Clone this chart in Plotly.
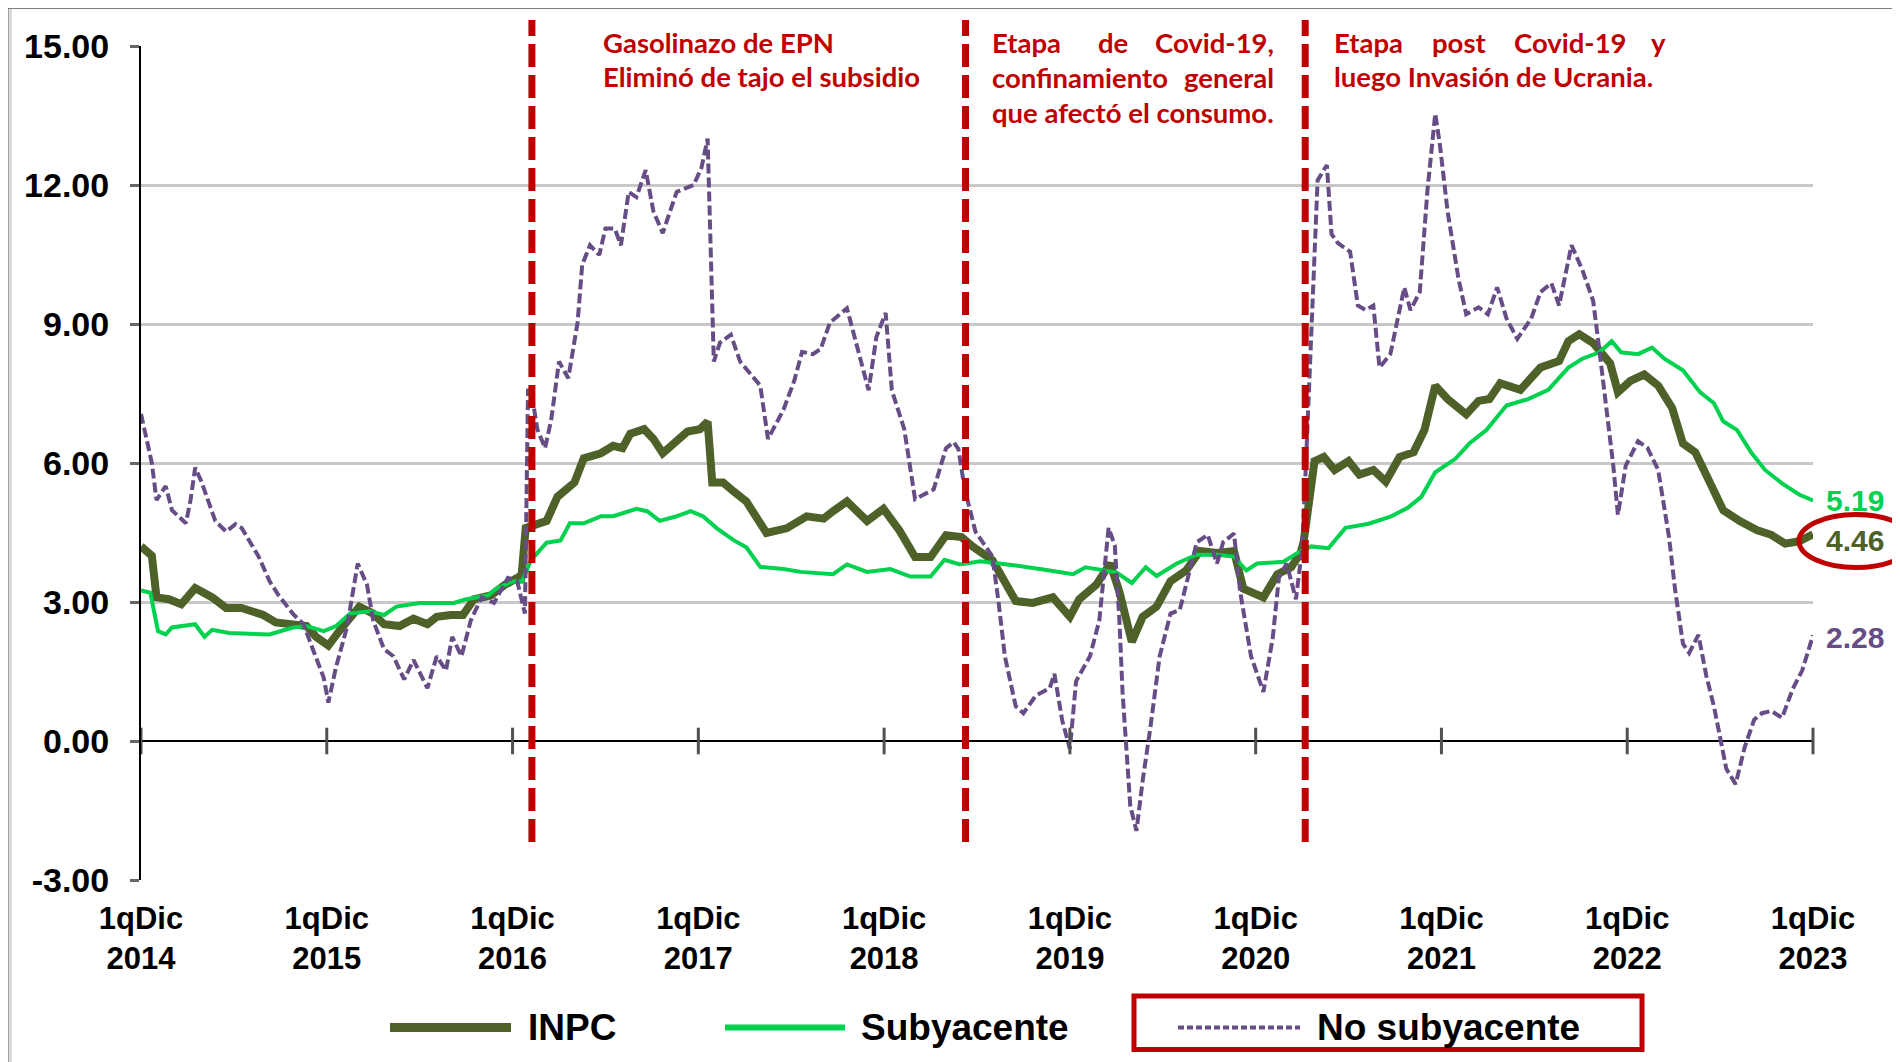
import plotly.graph_objects as go

# ---------------- data ----------------
years = [2014, 2015, 2016, 2017, 2018, 2019, 2020, 2021, 2022, 2023]
tick_months = [0, 12, 24, 36, 48, 60, 72, 84, 96, 108]      # month index, 0 = 1qDic 2014
tick_labels = ["1qDic<br>%d" % y for y in years]
y_ticks = [-3, 0, 3, 6, 9, 12, 15]
y_tick_labels = ["-3.00", "0.00", "3.00", "6.00", "9.00", "12.00", "15.00"]

inpc_m = [0, 0.7, 1.0, 1.8, 2.6, 3.5, 4.6, 5.5, 6.5, 7.9, 8.7, 9.8, 10.7, 11.3, 12.1, 12.8,
          13.5, 14.1, 15.0, 15.7, 16.7, 17.6, 18.5, 19.1, 20.0, 20.8, 21.5, 22.6, 23.5, 24.3,
          24.55, 24.85, 26.2, 26.9, 28.0, 28.6, 29.7, 30.5, 31.1, 31.6, 32.5, 33.1, 33.7, 34.6,
          35.3, 36.1, 36.6, 36.9, 37.6, 38.3, 39.1, 40.4, 41.7, 43.0, 44.1, 44.7, 45.6, 46.9,
          47.96, 49.0, 50.0, 51.0, 52.0, 53.0, 53.7, 55.0, 55.6, 56.5, 57.6, 58.9, 60.0, 60.6,
          61.7, 62.6, 63.2, 64.0, 64.7, 65.6, 66.5, 67.5, 68.4, 69.5, 70.6, 71.2, 72.5, 73.4,
          74.3, 74.9, 75.1, 75.4, 75.8, 76.4, 77.1, 78.0, 78.7, 79.6, 80.4, 81.3, 82.2, 82.9,
          83.6, 84.4, 85.6, 86.4, 87.1, 87.8, 89.1, 90.4, 91.6, 92.2, 92.9, 93.8, 94.9, 95.4,
          96.2, 97.1, 98.0, 98.9, 99.6, 100.4, 101.3, 102.2, 103.3, 104.4, 105.3, 106.2, 107.1, 108]
inpc_v = [4.2, 4.0, 3.1, 3.06, 2.95, 3.3, 3.1, 2.87, 2.87, 2.72, 2.56, 2.52, 2.48, 2.25, 2.06, 2.37,
          2.68, 2.9, 2.75, 2.52, 2.48, 2.64, 2.52, 2.68, 2.72, 2.72, 3.06, 3.14, 3.37, 3.52,
          3.45, 4.6, 4.75, 5.27, 5.58, 6.1, 6.21, 6.37, 6.32, 6.63, 6.73, 6.52, 6.21, 6.47,
          6.68, 6.73, 6.89, 5.58, 5.58, 5.38, 5.17, 4.49, 4.59, 4.85, 4.8, 4.96, 5.17, 4.75,
          5.01, 4.54, 3.97, 3.97, 4.44, 4.4, 4.2, 3.9, 3.52, 3.02, 2.98, 3.1, 2.68, 3.06,
          3.37, 3.83, 3.22, 2.14, 2.68, 2.9, 3.45, 3.68, 4.1, 4.06, 4.1, 3.29, 3.1, 3.6,
          3.75, 4.06, 4.3, 5.1, 6.04, 6.13, 5.85, 6.04, 5.75, 5.85, 5.6, 6.13, 6.23, 6.71,
          7.67, 7.38, 7.05, 7.34, 7.38, 7.72, 7.58, 8.06, 8.2, 8.63, 8.78, 8.59, 8.15, 7.53,
          7.77, 7.91, 7.67, 7.19, 6.42, 6.23, 5.65, 4.98, 4.74, 4.55, 4.45, 4.26, 4.31, 4.46]

suby_m = [0, 0.6, 1.1, 1.6, 2.0, 3.5, 4.1, 4.6, 5.7, 8.3, 9.8, 10.7, 11.8, 12.6, 13.5, 14.8,
          15.7, 16.5, 18.0, 20.2, 21.0, 22.4, 23.0, 24.1, 24.6, 25.2, 26.2, 27.1, 27.7, 28.6,
          29.7, 30.5, 32.0, 32.7, 33.5, 34.6, 35.5, 36.3, 37.2, 38.3, 39.1, 40.0, 41.5, 42.6,
          44.7, 45.6, 46.9, 48.4, 49.7, 51.0, 51.9, 52.9, 54.2, 56.5, 58.7, 60.2, 61.0, 63.0,
          64.0, 64.9, 65.6, 66.9, 68.2, 69.5, 70.6, 71.4, 72.1, 73.8, 74.7, 75.6, 76.7, 77.8,
          79.3, 80.7, 81.8, 82.7, 83.6, 84.9, 85.8, 86.9, 88.2, 89.6, 90.9, 92.2, 93.1, 94.2,
          95.0, 95.6, 96.7, 97.6, 98.4, 99.6, 100.7, 101.6, 102.2, 103.1, 104.0, 104.9, 106.0,
          107.1, 108]
suby_v = [3.25, 3.2, 2.37, 2.3, 2.45, 2.52, 2.25, 2.4, 2.33, 2.3, 2.45, 2.48, 2.37, 2.48, 2.75, 2.8,
          2.72, 2.9, 2.98, 2.98, 3.06, 3.14, 3.3, 3.45, 3.44, 3.91, 4.28, 4.33, 4.7, 4.7,
          4.85, 4.85, 5.01, 4.96, 4.75, 4.85, 4.96, 4.85, 4.59, 4.33, 4.18, 3.76, 3.71, 3.65,
          3.6, 3.81, 3.65, 3.71, 3.55, 3.55, 3.91, 3.81, 3.88, 3.79, 3.68, 3.6, 3.75, 3.64,
          3.41, 3.75, 3.56, 3.83, 4.02, 4.02, 3.98, 3.68, 3.83, 3.87, 4.06, 4.2, 4.16, 4.6,
          4.69, 4.84, 5.03, 5.27, 5.8, 6.09, 6.42, 6.71, 7.24, 7.38, 7.58, 8.06, 8.25, 8.39,
          8.63, 8.39, 8.35, 8.49, 8.25, 8.0, 7.53, 7.29, 6.9, 6.71, 6.23, 5.85, 5.56,
          5.32, 5.19]

nosub_m = [0, 0.3, 0.7, 1.0, 1.6, 2.0, 2.9, 3.2, 3.5, 3.9, 4.8, 5.5, 6.1, 6.5, 7.6, 8.3, 8.9,
           9.8, 10.5, 11.1, 11.8, 12.1, 12.6, 13.3, 14.0, 14.6, 15.0, 15.7, 16.3, 17.0, 17.6,
           18.5, 19.1, 19.7, 20.1, 20.7, 21.3, 22.0, 22.8, 23.7, 24.3, 24.8, 25.0, 25.3, 25.6,
           26.1, 26.5, 27.0, 27.6, 28.2, 28.5, 29.0, 29.6, 30.0, 30.6, 31.0, 31.5, 32.0, 32.6,
           33.1, 33.7, 34.6, 35.7, 36.2, 36.6, 37.0, 37.4, 38.1, 38.7, 40.0, 40.5, 41.5, 42.2,
           42.7, 43.4, 43.9, 44.5, 45.6, 46.2, 47.0, 47.5, 48.1, 48.5, 49.3, 50.0, 51.2, 52.0,
           52.5, 52.8, 53.2, 53.9, 55.0, 55.4, 55.8, 56.5, 57.0, 57.8, 58.7, 59.0, 59.5, 60.0,
           60.4, 61.3, 61.9, 62.5, 62.9, 63.2, 63.4, 63.9, 64.3, 64.7, 65.2, 65.8, 66.5, 67.1,
           67.5, 68.2, 68.9, 69.5, 69.9, 70.6, 71.0, 71.7, 72.5, 73.1, 73.5, 74.0, 74.6, 75.0,
           75.25, 75.6, 76.0, 76.6, 76.9, 77.3, 78.1, 78.6, 79.1, 79.6, 80.0, 80.7, 81.6, 82.0,
           82.6, 83.1, 83.6, 83.9, 84.4, 85.1, 85.6, 86.4, 87.0, 87.6, 88.2, 88.9, 89.8, 90.4,
           91.1, 91.6, 92.4, 93.1, 93.8, 94.2, 94.7, 95.1, 95.4, 95.9, 96.7, 97.3, 98.0, 98.7,
           99.1, 99.6, 100.0, 100.6, 101.1, 101.6, 102.0, 102.4, 103.0, 103.6, 104.2, 104.7,
           105.3, 106.0, 106.7, 107.3, 108]
nosub_v = [7.06, 6.6, 6.0, 5.2, 5.5, 4.98, 4.7, 5.2, 5.9, 5.6, 4.75, 4.52, 4.68, 4.6, 3.98, 3.45, 3.14,
           2.75, 2.52, 1.98, 1.37, 0.83, 1.6, 2.45, 3.83, 3.37, 2.6, 1.98, 1.83, 1.33, 1.75,
           1.14, 1.83, 1.52, 2.25, 1.83, 2.6, 3.1, 2.98, 3.52, 3.45, 2.75, 7.6, 7.36, 6.73,
           6.32, 6.94, 8.19, 7.83, 9.03, 10.28, 10.7, 10.49, 11.06, 11.06, 10.7, 11.85, 11.74, 12.32,
           11.43, 10.96, 11.85, 12.0, 12.37, 13.0, 8.19, 8.6, 8.77, 8.19, 7.67, 6.52, 7.15, 7.78,
           8.4, 8.35, 8.46, 9.03, 9.34, 8.56, 7.57, 8.72, 9.24, 7.57, 6.73, 5.22, 5.43, 6.32,
           6.45, 6.3, 5.45, 4.52, 3.98, 2.98, 1.83, 0.75, 0.6, 0.98, 1.14, 1.45, 0.45, -0.17,
           1.29, 1.83, 2.6, 4.6, 4.22, 2.6, 1.06, -1.4, -1.94, -0.86, 0.29, 1.83, 2.75, 2.83,
           3.37, 4.29, 4.45, 3.83, 4.29, 4.48, 3.22, 1.83, 1.06, 2.22, 3.52, 3.83, 3.06, 4.14,
           6.0, 9.02, 12.1, 12.43, 10.94, 10.75, 10.56, 9.4, 9.3, 9.4, 8.06, 8.35, 9.79, 9.3,
           9.69, 11.9, 13.54, 12.87, 11.42, 9.98, 9.21, 9.36, 9.21, 9.79, 9.12, 8.68, 9.12, 9.69,
           9.88, 9.4, 10.7, 10.17, 9.5, 8.44, 7.1, 5.94, 4.88, 5.94, 6.47, 6.33, 5.85, 4.4,
           3.25, 2.1, 1.9, 2.29, 1.42, 0.75, 0.08, -0.6, -0.93, -0.12, 0.46, 0.6,
           0.65, 0.5, 1.13, 1.52, 2.28]

event_months = [25.25, 53.26, 75.2]
series_names = ["INPC", "Subyacente", "No subyacente"]
last_labels = ["4.46", "5.19", "2.28"]

# ---------------- styling ----------------
C_INPC = "#4e6128"
C_SUB = "#00d24f"
C_NOSUB = "#674d86"
C_RED = "#c00000"
FONT = "Liberation Sans, Arial, sans-serif"
NOTE_FONT = "Lato, Open Sans, sans-serif"

OFF = 8                      # page offset of the figure (body margin)
W, H = 1900, 1062
PW, PH = 1672, 834           # plot area size
ML, MT = 141 - OFF, 46 - OFF
MR, MB = W - ML - PW, H - MT - PH


def px(xpage):
    """page x pixel -> paper fraction"""
    return (xpage - OFF - ML) / PW


def py(ypage):
    """page y pixel -> paper fraction"""
    return (MT + PH - (ypage - OFF)) / PH


fig = go.Figure()
fig.add_trace(go.Scatter(x=inpc_m, y=inpc_v, mode="lines", name=series_names[0],
                         line=dict(color=C_INPC, width=8), showlegend=False))
fig.add_trace(go.Scatter(x=suby_m, y=suby_v, mode="lines", name=series_names[1],
                         line=dict(color=C_SUB, width=4), showlegend=False))
fig.add_trace(go.Scatter(x=nosub_m, y=nosub_v, mode="lines", name=series_names[2],
                         line=dict(color=C_NOSUB, width=4, dash="10px,4px"), showlegend=False))
# year tick marks on the zero line
fig.add_trace(go.Scatter(x=tick_months, y=[0] * len(tick_months), mode="markers",
                         marker=dict(symbol="line-ns", size=19,
                                     line=dict(width=3, color="#505050")),
                         showlegend=False, hoverinfo="skip", cliponaxis=False))

shapes = []
# event lines
for m in event_months:
    shapes.append(dict(type="line", xref="x", yref="paper", x0=m, x1=m,
                       y0=py(842), y1=py(20), layer="above",
                       line=dict(color=C_RED, width=7, dash="23px,8px")))
# white masks behind the notes
for a, b in [(582, 953), (971, 1298), (1314, 1688)]:
    shapes.append(dict(type="rect", xref="paper", yref="paper", x0=px(a), x1=px(b),
                       y0=py(62), y1=py(28), fillcolor="white", line=dict(width=0),
                       layer="between"))
# ellipse around last INPC value
shapes.append(dict(type="circle", xref="paper", yref="paper", x0=px(1799), x1=px(1913),
                   y0=py(567.5), y1=py(514.5), line=dict(color=C_RED, width=5)))
# frame
shapes.append(dict(type="line", xref="paper", yref="paper", x0=px(7), x1=px(7),
                   y0=py(7), y1=py(1070), line=dict(color="#444444", width=3)))
shapes.append(dict(type="line", xref="paper", yref="paper", x0=px(10.5), x1=px(10.5),
                   y0=py(9), y1=py(1070), line=dict(color="#cccccc", width=2)))
shapes.append(dict(type="line", xref="paper", yref="paper", x0=px(6), x1=px(1910),
                   y0=py(7.5), y1=py(7.5), line=dict(color="#555555", width=2.5)))
# manual legend
leg_y = py(1027.5)
shapes.append(dict(type="line", xref="paper", yref="paper", x0=px(390), x1=px(511),
                   y0=leg_y, y1=leg_y, line=dict(color=C_INPC, width=9)))
shapes.append(dict(type="line", xref="paper", yref="paper", x0=px(725), x1=px(845),
                   y0=leg_y, y1=leg_y, line=dict(color=C_SUB, width=6)))
shapes.append(dict(type="line", xref="paper", yref="paper", x0=px(1178), x1=px(1300),
                   y0=leg_y, y1=leg_y, line=dict(color=C_NOSUB, width=4, dash="6px,3px")))
shapes.append(dict(type="rect", xref="paper", yref="paper", x0=px(1134), x1=px(1642),
                   y0=py(1049.5), y1=py(996), line=dict(color=C_RED, width=5)))

annotations = []
for name, xl in zip(series_names, [526, 859, 1315]):
    annotations.append(dict(text=name, xref="paper", yref="paper", x=px(xl), y=leg_y,
                            xanchor="left", yanchor="middle", showarrow=False,
                            font=dict(family=FONT, size=37, color="black", weight="bold")))

notes = [
    ("Gasolinazo de EPN", "left", 602, 42),
    ("Eliminó de tajo el subsidio", "left", 602, 76),
    ("Etapa", "left", 991, 42), ("de", "center", 1113, 42), ("Covid-19,", "right", 1275, 42),
    ("confinamiento", "left", 991, 78), ("general", "right", 1275, 78),
    ("que afectó el consumo.", "left", 991, 113),
    ("Etapa", "left", 1333, 42), ("post", "center", 1459, 42), ("Covid-19", "center", 1570, 42),
    ("y", "right", 1667, 42),
    ("luego Invasión de Ucrania.", "left", 1333, 76),
]
for txt, anc, xx, yy in notes:
    annotations.append(dict(text=txt, xref="paper", yref="paper", x=px(xx), y=py(yy),
                            xanchor=anc, yanchor="middle", showarrow=False, borderpad=0,
                            font=dict(family=NOTE_FONT, size=27.5, color=C_RED, weight="bold")))

# last values
last_vals = [inpc_v[-1], suby_v[-1], nosub_v[-1]]
for lab, val, col, ys in zip(last_labels, last_vals, [C_INPC, C_SUB, C_NOSUB], [-6, 0, -2]):
    annotations.append(dict(text=lab, xref="x", yref="y", x=tick_months[-1], y=val,
                            xanchor="left", yanchor="middle", xshift=11, yshift=ys,
                            showarrow=False,
                            font=dict(family=FONT, size=30, color=col, weight="bold")))

fig.update_layout(
    width=W, height=H,
    margin=dict(l=ML, r=MR, t=MT, b=MB, autoexpand=False),
    paper_bgcolor="white", plot_bgcolor="white",
    font=dict(family=FONT, color="black"),
    shapes=shapes, annotations=annotations,
    xaxis=dict(range=[0, 108], tickmode="array", tickvals=tick_months, ticktext=tick_labels,
               showgrid=False, zeroline=False, showline=False, ticks="",
               tickfont=dict(family=FONT, size=31, color="black", weight="bold"),
               ticklabelstandoff=17),
    yaxis=dict(range=[-3, 15], tickmode="array", tickvals=y_ticks, ticktext=y_tick_labels,
               showgrid=True, gridcolor="#c8c8c8", gridwidth=3,
               zeroline=True, zerolinecolor="black", zerolinewidth=2,
               showline=True, linecolor="black", linewidth=2,
               ticks="outside", ticklen=9, tickwidth=3, tickcolor="#666666",
               tickfont=dict(family=FONT, size=34, color="black", weight="bold"),
               ticklabelstandoff=14),
    showlegend=False,
)

fig.write_html("out.html")
